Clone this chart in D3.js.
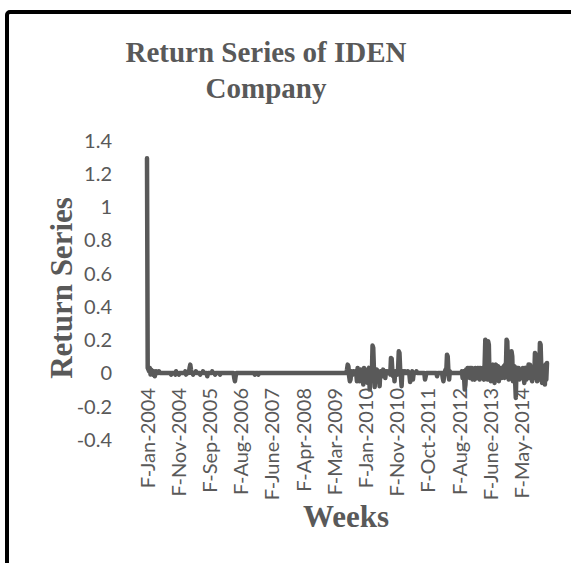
<!DOCTYPE html>
<html>
<head>
<meta charset="utf-8">
<script src="https://cdn.jsdelivr.net/npm/d3@7"></script>
<style>
  html, body { margin: 0; padding: 0; background: #fff; }
  svg { display: block; }
</style>
</head>
<body>
<svg id="chart" width="571" height="563"></svg>
<script>
// weekly return series, one row of 44 weeks per category label
const seg2004a = [1.29, 0.03, 0.02, 0.01, 0.03, -0.01, 0.02, 0.01, -0.01, 0, 0.01,
  -0.02, 0, 0.01, 0, 0, 0, 0.01, 0, 0, 0, 0,
  0, 0, 0, 0, 0, 0, 0, 0, 0, 0, 0,
  0, -0.01, 0, 0, 0, 0, 0, -0.01, 0.01, 0, 0];
const seg2004b = [0, -0.01, 0, 0, 0, 0, 0, 0, 0, 0, 0.01,
  -0.01, 0, 0, 0, 0, 0.03, 0.05, 0.02, 0, 0, -0.01,
  0, 0, 0, 0.01, 0, 0, 0, 0, 0, -0.01, 0,
  0, 0, 0.01, 0, 0, 0, 0, 0, -0.02, 0, 0];
const seg2005 = [0, 0, 0, 0, 0.01, 0, 0, 0, -0.01, 0, 0,
  0, 0, 0, 0, -0.01, 0, 0, 0, 0, 0, 0,
  0, 0, 0, 0, 0, 0, 0, 0, 0, 0, 0,
  0, 0, -0.03, -0.05, -0.02, 0, 0, 0, 0, 0, 0];
const seg2006 = [0, 0, 0, 0, 0, 0, 0, 0, 0, 0, 0,
  0, 0, 0, 0, 0, 0, 0, 0, 0, -0.01, 0,
  0, 0, 0, -0.01, 0, 0, 0, 0, 0, 0, 0,
  0, 0, 0, 0, 0, 0, 0, 0, 0, 0, 0];
const seg2007 = [0, 0, 0, 0, 0, 0, 0, 0, 0, 0, 0,
  0, 0, 0, 0, 0, 0, 0, 0, 0, 0, 0,
  0, 0, 0, 0, 0, 0, 0, 0, 0, 0, 0,
  0, 0, 0, 0, 0, 0, 0, 0, 0, 0, 0];
const seg2008 = [0, 0, 0, 0, 0, 0, 0, 0, 0, 0, 0,
  0, 0, 0, 0, 0, 0, 0, 0, 0, 0, 0,
  0, 0, 0, 0, 0, 0, 0, 0, 0, 0, 0,
  0, 0, 0, 0, 0, 0, 0, 0, 0, 0, 0];
const seg2009 = [0, 0, 0, 0, 0, 0, 0, 0, 0, 0, 0,
  0, 0, 0, 0, 0, 0, 0, 0.02, 0.05, 0.04, -0.02,
  -0.05, -0.04, 0.01, 0, -0.01, 0.01, 0, 0, 0.01, 0, -0.05,
  0.03, -0.03, 0.01, -0.05, 0.02, -0.03, 0.01, 0.02, -0.07, 0.03, -0.02];
const seg2010a = [0.02, -0.03, 0.01, -0.06, 0.02, 0.03, -0.1, 0.01, 0.02, -0.02, 0.165,
  0.15, 0.02, -0.085, -0.03, 0.01, 0.02, -0.05, 0.01, 0, -0.08, 0.01,
  0, 0.01, -0.02, 0.02, -0.01, 0.01, -0.03, 0.01, 0, 0.01, 0,
  0, 0.01, -0.01, 0.09, 0.085, 0.01, -0.02, 0.01, -0.05, 0.01, 0];
const seg2010b = [0.01, -0.01, 0.02, 0.13, 0.12, 0.02, -0.02, -0.08, 0.01, 0, 0.01,
  0, 0.01, 0, 0, 0, 0.01, 0, -0.01, -0.055, -0.03, 0,
  0.01, -0.04, 0, 0, 0, 0, 0.01, 0, 0, 0, 0,
  0, 0, 0, 0, 0, 0, 0, -0.04, -0.02, 0, 0];
const seg2011 = [0, 0, 0, 0, 0, 0, 0, 0, 0, 0, 0,
  0, 0, -0.02, 0, 0, 0, 0, 0, 0, 0, -0.03,
  -0.05, -0.02, 0.01, 0.02, 0.01, 0.11, 0.1, 0.01, -0.04, 0.01, 0,
  0, 0, 0, 0, 0, 0, 0, 0, 0, 0, 0];
const seg2012 = [0, 0, 0, 0, 0.01, -0.03, 0.01, -0.02, -0.1, -0.07, 0.02,
  -0.03, 0.03, -0.02, 0.03, -0.03, 0.03, -0.02, 0.03, -0.04, 0.02, -0.02,
  -0.04, 0.03, -0.02, -0.03, 0.03, -0.02, 0.03, -0.04, 0.03, -0.02, -0.03,
  0.03, -0.02, -0.04, 0.04, 0.2, 0.19, 0.02, -0.04, 0.19, 0.17, -0.04];
const seg2013 = [0.03, -0.05, 0.04, -0.03, 0.05, 0.02, -0.06, 0.03, 0.05, -0.03, 0.02,
  0.04, -0.05, 0.03, -0.02, 0.03, -0.03, 0.02, -0.02, 0.04, -0.03, 0.05,
  0.02, 0.2, 0.19, 0.03, -0.04, 0.05, -0.02, -0.03, 0.13, 0.1, -0.05,
  0.02, 0.04, -0.04, -0.15, 0.02, 0.03, -0.03, 0.03, -0.04, 0.02, -0.03];
const seg2014 = [0.02, -0.03, 0.03, -0.02, -0.06, 0.02, 0.03, -0.04, 0.02, -0.03, 0.05,
  -0.03, 0.05, 0.03, -0.02, -0.05, 0.02, 0.03, -0.03, 0.12, 0.11, 0.02,
  -0.05, 0.02, -0.02, -0.04, 0.18, 0.17, 0.02, -0.06, 0.03, -0.03, 0.04,
  -0.07, 0.05, -0.04, 0.06];

const returns = [].concat(seg2004a, seg2004b, seg2005, seg2006, seg2007, seg2008, seg2009,
  seg2010a, seg2010b, seg2011, seg2012, seg2013, seg2014);

const tickLabels = ['F-Jan-2004', 'F-Nov-2004', 'F-Sep-2005', 'F-Aug-2006', 'F-June-2007',
  'F-Apr-2008', 'F-Mar-2009', 'F-Jan-2010', 'F-Nov-2010', 'F-Oct-2011', 'F-Aug-2012',
  'F-June-2013', 'F-May-2014'];
const tickWeeks = [0, 44, 88, 132, 176, 220, 264, 308, 352, 396, 440, 484, 528];
const yTicks = [1.4, 1.2, 1, 0.8, 0.6, 0.4, 0.2, 0, -0.2, -0.4];
const yTickLabels = ['1.4', '1.2', '1', '0.8', '0.6', '0.4', '0.2', '0', '-0.2', '-0.4'];

const grey = '#595959';
const svg = d3.select('#chart');

const x = d3.scaleLinear().domain([0, returns.length - 1]).range([147, 547]);
const y = d3.scaleLinear().domain([-0.4, 1.4]).range([439.5, 140]);

// frame
svg.append('rect').attr('x', 7).attr('y', 12).attr('width', 620).attr('height', 620)
  .attr('rx', 3).attr('fill', '#fff').attr('stroke', '#000').attr('stroke-width', 4);

// title
const title = svg.append('text').attr('text-anchor', 'middle')
  .attr('font-family', 'Liberation Serif, Times New Roman, serif').attr('font-weight', 'bold')
  .attr('font-size', 29).attr('fill', grey);
title.append('tspan').attr('x', 266).attr('y', 62).text('Return Series of IDEN');
title.append('tspan').attr('x', 266).attr('y', 98).text('Company');

// y axis labels
const yAxis = svg.append('g').attr('transform', 'translate(112,0)')
  .call(d3.axisLeft(y).tickValues(yTicks).tickSize(0).tickPadding(0)
    .tickFormat((d, i) => yTickLabels[i]));
yAxis.select('.domain').remove();
yAxis.selectAll('text').attr('font-family', 'Lato, sans-serif').attr('font-size', 20)
  .attr('fill', grey).attr('dy', '0.35em');

// x axis labels
const xAxis = svg.append('g').attr('transform', `translate(0,${y(0)})`)
  .call(d3.axisBottom(x).tickValues(tickWeeks).tickSize(0).tickPadding(0)
    .tickFormat((d, i) => tickLabels[i]));
xAxis.select('.domain').remove();
xAxis.selectAll('text').attr('font-family', 'Lato, sans-serif').attr('font-size', 20)
  .attr('fill', grey).attr('transform', 'rotate(-90)').attr('text-anchor', 'end')
  .attr('x', -15).attr('y', 0).attr('dy', '0.35em');

// series
const line = d3.line().x((d, i) => x(i)).y(d => y(d));
svg.append('path').datum(returns).attr('d', line).attr('fill', 'none')
  .attr('stroke', grey).attr('stroke-width', 4.5)
  .attr('stroke-linejoin', 'round').attr('stroke-linecap', 'round');

// axis titles
svg.append('text').attr('transform', 'translate(72,288) rotate(-90)').attr('text-anchor', 'middle')
  .attr('font-family', 'Liberation Serif, Times New Roman, serif').attr('font-weight', 'bold')
  .attr('font-size', 31).attr('fill', grey).text('Return Series');
svg.append('text').attr('x', 346).attr('y', 527).attr('text-anchor', 'middle')
  .attr('font-family', 'Liberation Serif, Times New Roman, serif').attr('font-weight', 'bold')
  .attr('font-size', 31).attr('fill', grey).text('Weeks');
</script>
</body>
</html>
